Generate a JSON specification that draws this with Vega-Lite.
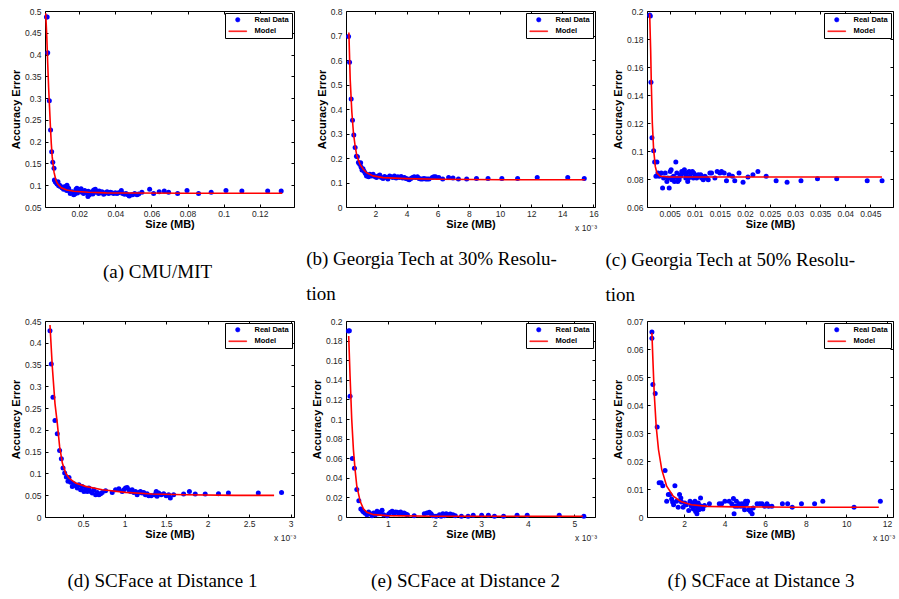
{
"$schema": "https://vega.github.io/schema/vega-lite/v6.json",
"background": "white",
"padding": {"left": 9, "top": 6, "right": 2, "bottom": 2},
"columns": 3,
"spacing": {"row": 114, "column": 52},
"bounds": "flush",
"resolve": {"scale": {"color": "independent", "shape": "independent"}, "legend": {"color": "independent", "shape": "independent"}},
"config": {
  "view": {"stroke": "black", "strokeWidth": 1},
  "font": "Liberation Sans",
  "axis": {"domain": false, "grid": false, "ticks": true, "tickSize": -3, "tickColor": "black", "tickWidth": 1, "labelFont": "Liberation Sans", "labelFontSize": 8.5, "labelColor": "#262626", "labelFlush": false, "labelOverlap": false, "titleFont": "Liberation Sans", "titleFontSize": 11, "titleFontWeight": "bold", "titleColor": "black"},
  "axisX": {"labelPadding": 5, "titlePadding": 1},
  "axisY": {"labelPadding": 7, "titlePadding": 3},
  "legend": {"orient": "top-right", "offset": 2, "padding": 3, "strokeColor": "black", "fillColor": "white", "labelFont": "Liberation Sans", "labelFontSize": 7.5, "labelFontWeight": "bold", "labelColor": "black", "symbolSize": 20, "symbolStrokeWidth": 0.5, "symbolOffset": 6, "labelOffset": 13, "rowPadding": 2.5},
  "title": {"font": "Liberation Serif", "fontSize": 19, "fontWeight": "normal", "color": "black", "orient": "bottom", "lineHeight": 35}
},
"datasets": {
"a": [
{"s":0.0018,"e":0.486,"k":"Real Data"},{"s":0.0022,"e":0.486,"k":"Real Data"},{"s":0.0025,"e":0.404,"k":"Real Data"},{"s":0.0034,"e":0.294,"k":"Real Data"},{"s":0.0041,"e":0.227,"k":"Real Data"},{"s":0.0047,"e":0.177,"k":"Real Data"},{"s":0.0053,"e":0.153,"k":"Real Data"},{"s":0.006,"e":0.139,"k":"Real Data"},{"s":0.0062,"e":0.112,"k":"Real Data"},{"s":0.0067,"e":0.108,"k":"Real Data"},{"s":0.0071,"e":0.106,"k":"Real Data"},{"s":0.0077,"e":0.103,"k":"Real Data"},{"s":0.0082,"e":0.108,"k":"Real Data"},{"s":0.0085,"e":0.101,"k":"Real Data"},{"s":0.0086,"e":0.099,"k":"Real Data"},{"s":0.0091,"e":0.1,"k":"Real Data"},{"s":0.0095,"e":0.097,"k":"Real Data"},{"s":0.0104,"e":0.094,"k":"Real Data"},{"s":0.011,"e":0.096,"k":"Real Data"},{"s":0.0113,"e":0.091,"k":"Real Data"},{"s":0.012,"e":0.092,"k":"Real Data"},{"s":0.0123,"e":0.097,"k":"Real Data"},{"s":0.013,"e":0.088,"k":"Real Data"},{"s":0.0132,"e":0.1,"k":"Real Data"},{"s":0.0141,"e":0.093,"k":"Real Data"},{"s":0.0145,"e":0.087,"k":"Real Data"},{"s":0.015,"e":0.081,"k":"Real Data"},{"s":0.016,"e":0.085,"k":"Real Data"},{"s":0.0165,"e":0.084,"k":"Real Data"},{"s":0.0169,"e":0.078,"k":"Real Data"},{"s":0.0174,"e":0.083,"k":"Real Data"},{"s":0.0175,"e":0.08,"k":"Real Data"},{"s":0.0182,"e":0.091,"k":"Real Data"},{"s":0.0187,"e":0.093,"k":"Real Data"},{"s":0.019,"e":0.082,"k":"Real Data"},{"s":0.0197,"e":0.087,"k":"Real Data"},{"s":0.0206,"e":0.089,"k":"Real Data"},{"s":0.021,"e":0.092,"k":"Real Data"},{"s":0.0215,"e":0.084,"k":"Real Data"},{"s":0.0224,"e":0.081,"k":"Real Data"},{"s":0.023,"e":0.088,"k":"Real Data"},{"s":0.0233,"e":0.085,"k":"Real Data"},{"s":0.0243,"e":0.083,"k":"Real Data"},{"s":0.0248,"e":0.074,"k":"Real Data"},{"s":0.025,"e":0.086,"k":"Real Data"},{"s":0.0256,"e":0.078,"k":"Real Data"},{"s":0.0261,"e":0.083,"k":"Real Data"},{"s":0.027,"e":0.085,"k":"Real Data"},{"s":0.0275,"e":0.08,"k":"Real Data"},{"s":0.028,"e":0.089,"k":"Real Data"},{"s":0.0289,"e":0.091,"k":"Real Data"},{"s":0.029,"e":0.084,"k":"Real Data"},{"s":0.0298,"e":0.085,"k":"Real Data"},{"s":0.0307,"e":0.081,"k":"Real Data"},{"s":0.031,"e":0.087,"k":"Real Data"},{"s":0.0317,"e":0.083,"k":"Real Data"},{"s":0.0326,"e":0.085,"k":"Real Data"},{"s":0.0335,"e":0.079,"k":"Real Data"},{"s":0.034,"e":0.081,"k":"Real Data"},{"s":0.0344,"e":0.083,"k":"Real Data"},{"s":0.0354,"e":0.085,"k":"Real Data"},{"s":0.0363,"e":0.081,"k":"Real Data"},{"s":0.0372,"e":0.084,"k":"Real Data"},{"s":0.0381,"e":0.083,"k":"Real Data"},{"s":0.039,"e":0.081,"k":"Real Data"},{"s":0.04,"e":0.083,"k":"Real Data"},{"s":0.0409,"e":0.081,"k":"Real Data"},{"s":0.0418,"e":0.083,"k":"Real Data"},{"s":0.0433,"e":0.088,"k":"Real Data"},{"s":0.044,"e":0.081,"k":"Real Data"},{"s":0.0451,"e":0.079,"k":"Real Data"},{"s":0.0459,"e":0.081,"k":"Real Data"},{"s":0.047,"e":0.078,"k":"Real Data"},{"s":0.0477,"e":0.075,"k":"Real Data"},{"s":0.0488,"e":0.078,"k":"Real Data"},{"s":0.0496,"e":0.078,"k":"Real Data"},{"s":0.0507,"e":0.081,"k":"Real Data"},{"s":0.052,"e":0.078,"k":"Real Data"},{"s":0.0529,"e":0.08,"k":"Real Data"},{"s":0.0547,"e":0.084,"k":"Real Data"},{"s":0.059,"e":0.091,"k":"Real Data"},{"s":0.0612,"e":0.081,"k":"Real Data"},{"s":0.0643,"e":0.085,"k":"Real Data"},{"s":0.0671,"e":0.087,"k":"Real Data"},{"s":0.0695,"e":0.084,"k":"Real Data"},{"s":0.0745,"e":0.081,"k":"Real Data"},{"s":0.0797,"e":0.088,"k":"Real Data"},{"s":0.0861,"e":0.081,"k":"Real Data"},{"s":0.0931,"e":0.084,"k":"Real Data"},{"s":0.1013,"e":0.088,"k":"Real Data"},{"s":0.1101,"e":0.087,"k":"Real Data"},{"s":0.1244,"e":0.087,"k":"Real Data"},{"s":0.1319,"e":0.087,"k":"Real Data"},
{"s":0.0014,"e":0.495,"k":"Model"},{"s":0.002,"e":0.44,"k":"Model"},{"s":0.0025,"e":0.38,"k":"Model"},{"s":0.003,"e":0.325,"k":"Model"},{"s":0.0035,"e":0.28,"k":"Model"},{"s":0.004,"e":0.235,"k":"Model"},{"s":0.0045,"e":0.195,"k":"Model"},{"s":0.005,"e":0.165,"k":"Model"},{"s":0.006,"e":0.13,"k":"Model"},{"s":0.007,"e":0.112,"k":"Model"},{"s":0.008,"e":0.103,"k":"Model"},{"s":0.01,"e":0.094,"k":"Model"},{"s":0.013,"e":0.089,"k":"Model"},{"s":0.017,"e":0.086,"k":"Model"},{"s":0.025,"e":0.084,"k":"Model"},{"s":0.035,"e":0.0825,"k":"Model"},{"s":0.05,"e":0.082,"k":"Model"},{"s":0.08,"e":0.0815,"k":"Model"},{"s":0.1325,"e":0.0815,"k":"Model"}
],
"b": [
{"s":0.274e-3,"e":0.696,"k":"Real Data"},{"s":0.337e-3,"e":0.591,"k":"Real Data"},{"s":0.443e-3,"e":0.441,"k":"Real Data"},{"s":0.527e-3,"e":0.354,"k":"Real Data"},{"s":0.611e-3,"e":0.294,"k":"Real Data"},{"s":0.696e-3,"e":0.243,"k":"Real Data"},{"s":0.78e-3,"e":0.207,"k":"Real Data"},{"s":0.843e-3,"e":0.205,"k":"Real Data"},{"s":0.906e-3,"e":0.182,"k":"Real Data"},{"s":0.99e-3,"e":0.174,"k":"Real Data"},{"s":1.05e-3,"e":0.181,"k":"Real Data"},{"s":1.075e-3,"e":0.163,"k":"Real Data"},{"s":1.138e-3,"e":0.151,"k":"Real Data"},{"s":1.2e-3,"e":0.156,"k":"Real Data"},{"s":1.26e-3,"e":0.147,"k":"Real Data"},{"s":1.33e-3,"e":0.14,"k":"Real Data"},{"s":1.39e-3,"e":0.134,"k":"Real Data"},{"s":1.43e-3,"e":0.127,"k":"Real Data"},{"s":1.5e-3,"e":0.13,"k":"Real Data"},{"s":1.56e-3,"e":0.123,"k":"Real Data"},{"s":1.64e-3,"e":0.134,"k":"Real Data"},{"s":1.75e-3,"e":0.127,"k":"Real Data"},{"s":1.85e-3,"e":0.134,"k":"Real Data"},{"s":1.96e-3,"e":0.124,"k":"Real Data"},{"s":2.07e-3,"e":0.12,"k":"Real Data"},{"s":2.17e-3,"e":0.127,"k":"Real Data"},{"s":2.28e-3,"e":0.131,"k":"Real Data"},{"s":2.38e-3,"e":0.12,"k":"Real Data"},{"s":2.49e-3,"e":0.116,"k":"Real Data"},{"s":2.59e-3,"e":0.124,"k":"Real Data"},{"s":2.7e-3,"e":0.12,"k":"Real Data"},{"s":2.8e-3,"e":0.114,"k":"Real Data"},{"s":2.91e-3,"e":0.127,"k":"Real Data"},{"s":3.01e-3,"e":0.123,"k":"Real Data"},{"s":3.12e-3,"e":0.12,"k":"Real Data"},{"s":3.22e-3,"e":0.127,"k":"Real Data"},{"s":3.33e-3,"e":0.118,"k":"Real Data"},{"s":3.44e-3,"e":0.123,"k":"Real Data"},{"s":3.54e-3,"e":0.12,"k":"Real Data"},{"s":3.65e-3,"e":0.124,"k":"Real Data"},{"s":3.75e-3,"e":0.118,"k":"Real Data"},{"s":3.86e-3,"e":0.12,"k":"Real Data"},{"s":3.96e-3,"e":0.116,"k":"Real Data"},{"s":4.07e-3,"e":0.114,"k":"Real Data"},{"s":4.17e-3,"e":0.111,"k":"Real Data"},{"s":4.28e-3,"e":0.116,"k":"Real Data"},{"s":4.38e-3,"e":0.12,"k":"Real Data"},{"s":4.49e-3,"e":0.123,"k":"Real Data"},{"s":4.59e-3,"e":0.12,"k":"Real Data"},{"s":4.7e-3,"e":0.123,"k":"Real Data"},{"s":4.8e-3,"e":0.116,"k":"Real Data"},{"s":4.91e-3,"e":0.114,"k":"Real Data"},{"s":5.02e-3,"e":0.114,"k":"Real Data"},{"s":5.12e-3,"e":0.116,"k":"Real Data"},{"s":5.23e-3,"e":0.114,"k":"Real Data"},{"s":5.33e-3,"e":0.114,"k":"Real Data"},{"s":5.44e-3,"e":0.114,"k":"Real Data"},{"s":5.65e-3,"e":0.12,"k":"Real Data"},{"s":5.75e-3,"e":0.123,"k":"Real Data"},{"s":5.86e-3,"e":0.123,"k":"Real Data"},{"s":6.07e-3,"e":0.12,"k":"Real Data"},{"s":6.32e-3,"e":0.114,"k":"Real Data"},{"s":6.7e-3,"e":0.12,"k":"Real Data"},{"s":6.98e-3,"e":0.118,"k":"Real Data"},{"s":7.33e-3,"e":0.114,"k":"Real Data"},{"s":7.86e-3,"e":0.114,"k":"Real Data"},{"s":8.49e-3,"e":0.116,"k":"Real Data"},{"s":9.23e-3,"e":0.116,"k":"Real Data"},{"s":10.12e-3,"e":0.116,"k":"Real Data"},{"s":11.13e-3,"e":0.116,"k":"Real Data"},{"s":12.39e-3,"e":0.12,"k":"Real Data"},{"s":14.35e-3,"e":0.12,"k":"Real Data"},{"s":15.41e-3,"e":0.116,"k":"Real Data"},
{"s":0.295e-3,"e":0.712,"k":"Model"},{"s":0.38e-3,"e":0.52,"k":"Model"},{"s":0.485e-3,"e":0.388,"k":"Model"},{"s":0.59e-3,"e":0.301,"k":"Model"},{"s":0.7e-3,"e":0.247,"k":"Model"},{"s":0.8e-3,"e":0.211,"k":"Model"},{"s":1.01e-3,"e":0.174,"k":"Model"},{"s":1.22e-3,"e":0.154,"k":"Model"},{"s":1.43e-3,"e":0.14,"k":"Model"},{"s":1.85e-3,"e":0.127,"k":"Model"},{"s":2.49e-3,"e":0.12,"k":"Model"},{"s":3.96e-3,"e":0.116,"k":"Model"},{"s":6.07e-3,"e":0.113,"k":"Model"},{"s":10.28e-3,"e":0.111,"k":"Model"},{"s":15.45e-3,"e":0.111,"k":"Model"}
],
"c": [
{"s":0.00103,"e":0.1971,"k":"Real Data"},{"s":0.00116,"e":0.1964,"k":"Real Data"},{"s":0.00129,"e":0.1491,"k":"Real Data"},{"s":0.00149,"e":0.1094,"k":"Real Data"},{"s":0.00182,"e":0.1002,"k":"Real Data"},{"s":0.00202,"e":0.0921,"k":"Real Data"},{"s":0.00248,"e":0.0921,"k":"Real Data"},{"s":0.00228,"e":0.0819,"k":"Real Data"},{"s":0.00268,"e":0.0842,"k":"Real Data"},{"s":0.00294,"e":0.0819,"k":"Real Data"},{"s":0.00334,"e":0.0842,"k":"Real Data"},{"s":0.0036,"e":0.0735,"k":"Real Data"},{"s":0.0038,"e":0.0807,"k":"Real Data"},{"s":0.00413,"e":0.0842,"k":"Real Data"},{"s":0.00446,"e":0.0783,"k":"Real Data"},{"s":0.00465,"e":0.0807,"k":"Real Data"},{"s":0.00492,"e":0.0735,"k":"Real Data"},{"s":0.0052,"e":0.0807,"k":"Real Data"},{"s":0.00512,"e":0.0854,"k":"Real Data"},{"s":0.00531,"e":0.0866,"k":"Real Data"},{"s":0.00545,"e":0.0795,"k":"Real Data"},{"s":0.0058,"e":0.0807,"k":"Real Data"},{"s":0.00578,"e":0.0819,"k":"Real Data"},{"s":0.00597,"e":0.0783,"k":"Real Data"},{"s":0.00624,"e":0.0921,"k":"Real Data"},{"s":0.00644,"e":0.0842,"k":"Real Data"},{"s":0.00663,"e":0.0783,"k":"Real Data"},{"s":0.0067,"e":0.0807,"k":"Real Data"},{"s":0.0069,"e":0.0795,"k":"Real Data"},{"s":0.0072,"e":0.0819,"k":"Real Data"},{"s":0.00716,"e":0.0831,"k":"Real Data"},{"s":0.00742,"e":0.0854,"k":"Real Data"},{"s":0.00775,"e":0.0842,"k":"Real Data"},{"s":0.00795,"e":0.0866,"k":"Real Data"},{"s":0.0082,"e":0.0831,"k":"Real Data"},{"s":0.00822,"e":0.0807,"k":"Real Data"},{"s":0.00841,"e":0.0842,"k":"Real Data"},{"s":0.00861,"e":0.0783,"k":"Real Data"},{"s":0.0088,"e":0.0807,"k":"Real Data"},{"s":0.00888,"e":0.0854,"k":"Real Data"},{"s":0.00907,"e":0.0819,"k":"Real Data"},{"s":0.00927,"e":0.0842,"k":"Real Data"},{"s":0.00954,"e":0.0854,"k":"Real Data"},{"s":0.00973,"e":0.0807,"k":"Real Data"},{"s":0.0098,"e":0.0842,"k":"Real Data"},{"s":0.01006,"e":0.0831,"k":"Real Data"},{"s":0.01039,"e":0.0807,"k":"Real Data"},{"s":0.01072,"e":0.0831,"k":"Real Data"},{"s":0.01105,"e":0.0819,"k":"Real Data"},{"s":0.0112,"e":0.0831,"k":"Real Data"},{"s":0.01138,"e":0.0807,"k":"Real Data"},{"s":0.01171,"e":0.0795,"k":"Real Data"},{"s":0.01204,"e":0.0819,"k":"Real Data"},{"s":0.01237,"e":0.0807,"k":"Real Data"},{"s":0.0127,"e":0.0795,"k":"Real Data"},{"s":0.01303,"e":0.0842,"k":"Real Data"},{"s":0.01336,"e":0.0842,"k":"Real Data"},{"s":0.01402,"e":0.0807,"k":"Real Data"},{"s":0.01448,"e":0.0854,"k":"Real Data"},{"s":0.01501,"e":0.0842,"k":"Real Data"},{"s":0.01534,"e":0.0854,"k":"Real Data"},{"s":0.01587,"e":0.0842,"k":"Real Data"},{"s":0.01633,"e":0.0788,"k":"Real Data"},{"s":0.01686,"e":0.0831,"k":"Real Data"},{"s":0.01752,"e":0.0819,"k":"Real Data"},{"s":0.01798,"e":0.0788,"k":"Real Data"},{"s":0.01883,"e":0.0842,"k":"Real Data"},{"s":0.01963,"e":0.0776,"k":"Real Data"},{"s":0.02061,"e":0.0814,"k":"Real Data"},{"s":0.0216,"e":0.0831,"k":"Real Data"},{"s":0.02259,"e":0.0854,"k":"Real Data"},{"s":0.02424,"e":0.0819,"k":"Real Data"},{"s":0.02622,"e":0.0788,"k":"Real Data"},{"s":0.0284,"e":0.0776,"k":"Real Data"},{"s":0.03117,"e":0.0788,"k":"Real Data"},{"s":0.03446,"e":0.0802,"k":"Real Data"},{"s":0.03829,"e":0.0802,"k":"Real Data"},{"s":0.04436,"e":0.0788,"k":"Real Data"},{"s":0.04732,"e":0.0788,"k":"Real Data"},
{"s":0.00103,"e":0.198,"k":"Model"},{"s":0.00123,"e":0.172,"k":"Model"},{"s":0.00136,"e":0.148,"k":"Model"},{"s":0.00156,"e":0.12,"k":"Model"},{"s":0.00182,"e":0.101,"k":"Model"},{"s":0.00215,"e":0.089,"k":"Model"},{"s":0.00248,"e":0.0842,"k":"Model"},{"s":0.00314,"e":0.0819,"k":"Model"},{"s":0.0048,"e":0.0814,"k":"Model"},{"s":0.018,"e":0.0814,"k":"Model"},{"s":0.0473,"e":0.0814,"k":"Model"}
],
"d": [
{"s":0.1e-3,"e":0.4278,"k":"Real Data"},{"s":0.116e-3,"e":0.3514,"k":"Real Data"},{"s":0.136e-3,"e":0.275,"k":"Real Data"},{"s":0.16e-3,"e":0.2216,"k":"Real Data"},{"s":0.188e-3,"e":0.191,"k":"Real Data"},{"s":0.216e-3,"e":0.1528,"k":"Real Data"},{"s":0.237e-3,"e":0.1337,"k":"Real Data"},{"s":0.257e-3,"e":0.1123,"k":"Real Data"},{"s":0.277e-3,"e":0.1009,"k":"Real Data"},{"s":0.297e-3,"e":0.0917,"k":"Real Data"},{"s":0.317e-3,"e":0.0818,"k":"Real Data"},{"s":0.329e-3,"e":0.0909,"k":"Real Data"},{"s":0.349e-3,"e":0.0795,"k":"Real Data"},{"s":0.369e-3,"e":0.0703,"k":"Real Data"},{"s":0.389e-3,"e":0.0764,"k":"Real Data"},{"s":0.409e-3,"e":0.0718,"k":"Real Data"},{"s":0.429e-3,"e":0.0665,"k":"Real Data"},{"s":0.449e-3,"e":0.0741,"k":"Real Data"},{"s":0.469e-3,"e":0.0627,"k":"Real Data"},{"s":0.489e-3,"e":0.0703,"k":"Real Data"},{"s":0.509e-3,"e":0.0588,"k":"Real Data"},{"s":0.529e-3,"e":0.0642,"k":"Real Data"},{"s":0.549e-3,"e":0.0588,"k":"Real Data"},{"s":0.569e-3,"e":0.0665,"k":"Real Data"},{"s":0.589e-3,"e":0.0588,"k":"Real Data"},{"s":0.61e-3,"e":0.055,"k":"Real Data"},{"s":0.63e-3,"e":0.0627,"k":"Real Data"},{"s":0.65e-3,"e":0.0512,"k":"Real Data"},{"s":0.67e-3,"e":0.0565,"k":"Real Data"},{"s":0.69e-3,"e":0.0512,"k":"Real Data"},{"s":0.71e-3,"e":0.0535,"k":"Real Data"},{"s":0.73e-3,"e":0.0565,"k":"Real Data"},{"s":0.77e-3,"e":0.0604,"k":"Real Data"},{"s":0.85e-3,"e":0.0565,"k":"Real Data"},{"s":0.89e-3,"e":0.0627,"k":"Real Data"},{"s":0.93e-3,"e":0.065,"k":"Real Data"},{"s":0.97e-3,"e":0.0588,"k":"Real Data"},{"s":0.99e-3,"e":0.0627,"k":"Real Data"},{"s":1.01e-3,"e":0.0665,"k":"Real Data"},{"s":1.03e-3,"e":0.068,"k":"Real Data"},{"s":1.05e-3,"e":0.0627,"k":"Real Data"},{"s":1.07e-3,"e":0.0588,"k":"Real Data"},{"s":1.09e-3,"e":0.0627,"k":"Real Data"},{"s":1.11e-3,"e":0.0565,"k":"Real Data"},{"s":1.13e-3,"e":0.0588,"k":"Real Data"},{"s":1.15e-3,"e":0.0512,"k":"Real Data"},{"s":1.17e-3,"e":0.0565,"k":"Real Data"},{"s":1.19e-3,"e":0.0588,"k":"Real Data"},{"s":1.21e-3,"e":0.055,"k":"Real Data"},{"s":1.23e-3,"e":0.0565,"k":"Real Data"},{"s":1.25e-3,"e":0.0512,"k":"Real Data"},{"s":1.27e-3,"e":0.0535,"k":"Real Data"},{"s":1.29e-3,"e":0.0489,"k":"Real Data"},{"s":1.32e-3,"e":0.0489,"k":"Real Data"},{"s":1.36e-3,"e":0.0512,"k":"Real Data"},{"s":1.38e-3,"e":0.0588,"k":"Real Data"},{"s":1.39e-3,"e":0.0474,"k":"Real Data"},{"s":1.41e-3,"e":0.055,"k":"Real Data"},{"s":1.44e-3,"e":0.0512,"k":"Real Data"},{"s":1.47e-3,"e":0.0535,"k":"Real Data"},{"s":1.5e-3,"e":0.0489,"k":"Real Data"},{"s":1.53e-3,"e":0.0512,"k":"Real Data"},{"s":1.55e-3,"e":0.0436,"k":"Real Data"},{"s":1.59e-3,"e":0.0512,"k":"Real Data"},{"s":1.71e-3,"e":0.0527,"k":"Real Data"},{"s":1.78e-3,"e":0.0588,"k":"Real Data"},{"s":1.85e-3,"e":0.0527,"k":"Real Data"},{"s":1.97e-3,"e":0.0527,"k":"Real Data"},{"s":2.13e-3,"e":0.0535,"k":"Real Data"},{"s":2.25e-3,"e":0.055,"k":"Real Data"},{"s":2.61e-3,"e":0.055,"k":"Real Data"},{"s":2.89e-3,"e":0.0565,"k":"Real Data"},
{"s":0.1e-3,"e":0.4408,"k":"Model"},{"s":0.128e-3,"e":0.345,"k":"Model"},{"s":0.16e-3,"e":0.261,"k":"Model"},{"s":0.188e-3,"e":0.2155,"k":"Model"},{"s":0.216e-3,"e":0.162,"k":"Model"},{"s":0.249e-3,"e":0.1238,"k":"Model"},{"s":0.289e-3,"e":0.1009,"k":"Model"},{"s":0.329e-3,"e":0.0894,"k":"Model"},{"s":0.409e-3,"e":0.0779,"k":"Model"},{"s":0.529e-3,"e":0.0703,"k":"Model"},{"s":0.73e-3,"e":0.0627,"k":"Model"},{"s":1.01e-3,"e":0.0565,"k":"Model"},{"s":1.33e-3,"e":0.0527,"k":"Model"},{"s":1.73e-3,"e":0.0512,"k":"Model"},{"s":2.33e-3,"e":0.0497,"k":"Model"},{"s":2.8e-3,"e":0.0497,"k":"Model"}
],
"e": [
{"s":0.151e-3,"e":0.1898,"k":"Real Data"},{"s":0.172e-3,"e":0.1901,"k":"Real Data"},{"s":0.187e-3,"e":0.1233,"k":"Real Data"},{"s":0.237e-3,"e":0.0596,"k":"Real Data"},{"s":0.281e-3,"e":0.0497,"k":"Real Data"},{"s":0.332e-3,"e":0.028,"k":"Real Data"},{"s":0.375e-3,"e":0.0167,"k":"Real Data"},{"s":0.418e-3,"e":0.0082,"k":"Real Data"},{"s":0.455e-3,"e":0.0065,"k":"Real Data"},{"s":0.476e-3,"e":0.0051,"k":"Real Data"},{"s":0.512e-3,"e":0.0037,"k":"Real Data"},{"s":0.549e-3,"e":0.0024,"k":"Real Data"},{"s":0.585e-3,"e":0.0051,"k":"Real Data"},{"s":0.621e-3,"e":0.0034,"k":"Real Data"},{"s":0.657e-3,"e":0.0014,"k":"Real Data"},{"s":0.693e-3,"e":0.0041,"k":"Real Data"},{"s":0.73e-3,"e":0.0024,"k":"Real Data"},{"s":0.766e-3,"e":0.0058,"k":"Real Data"},{"s":0.802e-3,"e":0.0034,"k":"Real Data"},{"s":0.838e-3,"e":0.0048,"k":"Real Data"},{"s":0.874e-3,"e":0.0068,"k":"Real Data"},{"s":0.91e-3,"e":0.0024,"k":"Real Data"},{"s":0.983e-3,"e":0.0014,"k":"Real Data"},{"s":1.019e-3,"e":0.0034,"k":"Real Data"},{"s":1.055e-3,"e":0.0048,"k":"Real Data"},{"s":1.091e-3,"e":0.0058,"k":"Real Data"},{"s":1.127e-3,"e":0.0034,"k":"Real Data"},{"s":1.164e-3,"e":0.0051,"k":"Real Data"},{"s":1.2e-3,"e":0.0048,"k":"Real Data"},{"s":1.236e-3,"e":0.0034,"k":"Real Data"},{"s":1.272e-3,"e":0.0051,"k":"Real Data"},{"s":1.308e-3,"e":0.0034,"k":"Real Data"},{"s":1.345e-3,"e":0.0041,"k":"Real Data"},{"s":1.381e-3,"e":0.0031,"k":"Real Data"},{"s":1.417e-3,"e":0.0024,"k":"Real Data"},{"s":1.562e-3,"e":0.0014,"k":"Real Data"},{"s":1.779e-3,"e":0.0034,"k":"Real Data"},{"s":1.837e-3,"e":0.0041,"k":"Real Data"},{"s":1.887e-3,"e":0.0048,"k":"Real Data"},{"s":1.924e-3,"e":0.0034,"k":"Real Data"},{"s":1.96e-3,"e":0.0014,"k":"Real Data"},{"s":2.032e-3,"e":0.0007,"k":"Real Data"},{"s":2.104e-3,"e":0.0024,"k":"Real Data"},{"s":2.14e-3,"e":0.0007,"k":"Real Data"},{"s":2.177e-3,"e":0.0034,"k":"Real Data"},{"s":2.213e-3,"e":0.0014,"k":"Real Data"},{"s":2.249e-3,"e":0.0034,"k":"Real Data"},{"s":2.285e-3,"e":0.0024,"k":"Real Data"},{"s":2.336e-3,"e":0.0031,"k":"Real Data"},{"s":2.394e-3,"e":0.0024,"k":"Real Data"},{"s":2.444e-3,"e":0.0014,"k":"Real Data"},{"s":2.575e-3,"e":0.0007,"k":"Real Data"},{"s":2.719e-3,"e":0.0007,"k":"Real Data"},{"s":2.828e-3,"e":0.0017,"k":"Real Data"},{"s":3.009e-3,"e":0.0017,"k":"Real Data"},{"s":3.154e-3,"e":0.0017,"k":"Real Data"},{"s":3.284e-3,"e":0.0007,"k":"Real Data"},{"s":3.479e-3,"e":0.0007,"k":"Real Data"},{"s":3.769e-3,"e":0.0017,"k":"Real Data"},{"s":3.986e-3,"e":0.0017,"k":"Real Data"},{"s":4.673e-3,"e":0.0017,"k":"Real Data"},{"s":5.201e-3,"e":0.0007,"k":"Real Data"},
{"s":0.158e-3,"e":0.1847,"k":"Model"},{"s":0.187e-3,"e":0.1438,"k":"Model"},{"s":0.223e-3,"e":0.0995,"k":"Model"},{"s":0.259e-3,"e":0.0688,"k":"Model"},{"s":0.295e-3,"e":0.0484,"k":"Model"},{"s":0.332e-3,"e":0.0314,"k":"Model"},{"s":0.404e-3,"e":0.016,"k":"Model"},{"s":0.476e-3,"e":0.0082,"k":"Model"},{"s":0.549e-3,"e":0.0048,"k":"Model"},{"s":0.693e-3,"e":0.0024,"k":"Model"},{"s":0.983e-3,"e":0.0014,"k":"Model"},{"s":1.996e-3,"e":0.0007,"k":"Model"},{"s":5.18e-3,"e":0.0007,"k":"Model"}
],
"f": [
{"s":0.412e-3,"e":0.0661,"k":"Real Data"},{"s":0.412e-3,"e":0.0638,"k":"Real Data"},{"s":0.46e-3,"e":0.0473,"k":"Real Data"},{"s":0.574e-3,"e":0.0441,"k":"Real Data"},{"s":0.671e-3,"e":0.0321,"k":"Real Data"},{"s":0.768e-3,"e":0.0122,"k":"Real Data"},{"s":0.865e-3,"e":0.0122,"k":"Real Data"},{"s":0.947e-3,"e":0.0112,"k":"Real Data"},{"s":1.06e-3,"e":0.0166,"k":"Real Data"},{"s":1.141e-3,"e":0.0056,"k":"Real Data"},{"s":1.222e-3,"e":0.008,"k":"Real Data"},{"s":1.303e-3,"e":0.008,"k":"Real Data"},{"s":1.384e-3,"e":0.0064,"k":"Real Data"},{"s":1.433e-3,"e":0.0054,"k":"Real Data"},{"s":1.481e-3,"e":0.0044,"k":"Real Data"},{"s":1.546e-3,"e":0.0112,"k":"Real Data"},{"s":1.627e-3,"e":0.0056,"k":"Real Data"},{"s":1.708e-3,"e":0.0035,"k":"Real Data"},{"s":1.773e-3,"e":0.008,"k":"Real Data"},{"s":1.838e-3,"e":0.0068,"k":"Real Data"},{"s":1.87e-3,"e":0.0054,"k":"Real Data"},{"s":1.951e-3,"e":0.0035,"k":"Real Data"},{"s":2.032e-3,"e":0.005,"k":"Real Data"},{"s":2.113e-3,"e":0.0044,"k":"Real Data"},{"s":2.227e-3,"e":0.0023,"k":"Real Data"},{"s":2.292e-3,"e":0.0056,"k":"Real Data"},{"s":2.357e-3,"e":0.0038,"k":"Real Data"},{"s":2.405e-3,"e":0.005,"k":"Real Data"},{"s":2.454e-3,"e":0.0029,"k":"Real Data"},{"s":2.502e-3,"e":0.0044,"k":"Real Data"},{"s":2.535e-3,"e":0.0056,"k":"Real Data"},{"s":2.567e-3,"e":0.002,"k":"Real Data"},{"s":2.6e-3,"e":0.0038,"k":"Real Data"},{"s":2.632e-3,"e":0.0012,"k":"Real Data"},{"s":2.665e-3,"e":0.0032,"k":"Real Data"},{"s":2.697e-3,"e":0.005,"k":"Real Data"},{"s":2.729e-3,"e":0.0026,"k":"Real Data"},{"s":2.762e-3,"e":0.0041,"k":"Real Data"},{"s":2.81e-3,"e":0.0068,"k":"Real Data"},{"s":2.843e-3,"e":0.0038,"k":"Real Data"},{"s":2.924e-3,"e":0.0029,"k":"Real Data"},{"s":3.005e-3,"e":0.0041,"k":"Real Data"},{"s":3.248e-3,"e":0.0047,"k":"Real Data"},{"s":3.734e-3,"e":0.0047,"k":"Real Data"},{"s":3.848e-3,"e":0.0047,"k":"Real Data"},{"s":4.01e-3,"e":0.0056,"k":"Real Data"},{"s":4.22e-3,"e":0.0056,"k":"Real Data"},{"s":4.35e-3,"e":0.0047,"k":"Real Data"},{"s":4.431e-3,"e":0.0066,"k":"Real Data"},{"s":4.464e-3,"e":0.0012,"k":"Real Data"},{"s":4.512e-3,"e":0.0038,"k":"Real Data"},{"s":4.577e-3,"e":0.0056,"k":"Real Data"},{"s":4.642e-3,"e":0.0038,"k":"Real Data"},{"s":4.707e-3,"e":0.0047,"k":"Real Data"},{"s":4.788e-3,"e":0.0038,"k":"Real Data"},{"s":4.853e-3,"e":0.0047,"k":"Real Data"},{"s":4.917e-3,"e":0.0038,"k":"Real Data"},{"s":4.982e-3,"e":0.0026,"k":"Real Data"},{"s":5.031e-3,"e":0.0056,"k":"Real Data"},{"s":5.079e-3,"e":0.0047,"k":"Real Data"},{"s":5.128e-3,"e":0.0056,"k":"Real Data"},{"s":5.193e-3,"e":0.0026,"k":"Real Data"},{"s":5.274e-3,"e":0.002,"k":"Real Data"},{"s":5.355e-3,"e":0.0012,"k":"Real Data"},{"s":5.404e-3,"e":0.0032,"k":"Real Data"},{"s":5.598e-3,"e":0.0047,"k":"Real Data"},{"s":5.728e-3,"e":0.0047,"k":"Real Data"},{"s":5.841e-3,"e":0.0047,"k":"Real Data"},{"s":5.971e-3,"e":0.0038,"k":"Real Data"},{"s":6.084e-3,"e":0.0047,"k":"Real Data"},{"s":6.165e-3,"e":0.0038,"k":"Real Data"},{"s":6.327e-3,"e":0.0038,"k":"Real Data"},{"s":6.846e-3,"e":0.0047,"k":"Real Data"},{"s":7.105e-3,"e":0.0047,"k":"Real Data"},{"s":7.332e-3,"e":0.0035,"k":"Real Data"},{"s":7.786e-3,"e":0.0047,"k":"Real Data"},{"s":8.434e-3,"e":0.0047,"k":"Real Data"},{"s":8.839e-3,"e":0.0056,"k":"Real Data"},{"s":10.379e-3,"e":0.0035,"k":"Real Data"},{"s":11.676e-3,"e":0.0056,"k":"Real Data"},
{"s":0.412e-3,"e":0.0658,"k":"Model"},{"s":0.46e-3,"e":0.0563,"k":"Model"},{"s":0.525e-3,"e":0.0444,"k":"Model"},{"s":0.622e-3,"e":0.0324,"k":"Model"},{"s":0.736e-3,"e":0.0241,"k":"Model"},{"s":0.898e-3,"e":0.0169,"k":"Model"},{"s":1.141e-3,"e":0.011,"k":"Model"},{"s":1.465e-3,"e":0.0074,"k":"Model"},{"s":1.87e-3,"e":0.0054,"k":"Model"},{"s":2.357e-3,"e":0.0044,"k":"Model"},{"s":3.167e-3,"e":0.0038,"k":"Model"},{"s":4.464e-3,"e":0.0036,"k":"Model"},{"s":7.705e-3,"e":0.0035,"k":"Model"},{"s":11.6e-3,"e":0.0035,"k":"Model"}
]
},
"concat": [
{
 "width": 249, "height": 196,
 "title": {"text": "(a) CMU/MIT", "orient": "bottom", "anchor": "middle", "offset": 33, "dx": -12},
 "resolve": {"axis": {"x": "independent", "y": "independent"}},
 "layer": [
  {"data": {"name": "a"}, "transform": [{"filter": "datum.k == 'Real Data'"}], "mark": {"type": "point", "filled": true, "size": 25, "opacity": 1},
   "encoding": {
    "x": {"field": "s", "type": "quantitative", "scale": {"domain": [0.001, 0.139], "nice": false, "zero": false}, "axis": {"title": "Size (MB)", "values": [0.02, 0.04, 0.06, 0.08, 0.1, 0.12], "labelExpr": "format(datum.value, '~g')"}},
    "y": {"field": "e", "type": "quantitative", "scale": {"domain": [0.05, 0.5], "nice": false, "zero": false}, "axis": {"title": "Accuracy Error", "values": [0.05, 0.1, 0.15, 0.2, 0.25, 0.3, 0.35, 0.4, 0.45, 0.5], "labelExpr": "format(datum.value, '~g')"}},
    "color": {"field": "k", "type": "nominal", "scale": {"domain": ["Real Data", "Model"], "range": ["#0000ff", "#ff0000"]}, "legend": {"title": null, "strokeColor": "black", "fillColor": "white"}},
    "shape": {"field": "k", "type": "nominal", "scale": {"domain": ["Real Data", "Model"], "range": ["circle", "M-4,-0.2H4V0.2H-4Z"]}, "legend": {"title": null, "strokeColor": "black", "fillColor": "white"}}
   }},
  {"data": {"name": "a"}, "transform": [{"filter": "datum.k == 'Model'"}], "mark": {"type": "line", "strokeWidth": 1.6},
   "encoding": {"x": {"field": "s", "type": "quantitative", "axis": null}, "y": {"field": "e", "type": "quantitative", "axis": null}, "color": {"field": "k", "type": "nominal", "scale": {"domain": ["Real Data", "Model"], "range": ["#0000ff", "#ff0000"]}, "legend": {"title": null, "strokeColor": "black", "fillColor": "white"}}}},
  {"data": {"name": "a"}, "mark": {"type": "point", "opacity": 0},
   "encoding": {"x": {"field": "s", "type": "quantitative", "axis": {"orient": "top", "labels": false, "title": null, "values": [0.02, 0.04, 0.06, 0.08, 0.1, 0.12]}}, "y": {"field": "e", "type": "quantitative", "axis": {"orient": "right", "labels": false, "title": null, "values": [0.05, 0.1, 0.15, 0.2, 0.25, 0.3, 0.35, 0.4, 0.45, 0.5]}}}}
 ]
},
{
 "width": 249, "height": 196,
 "title": {"text": ["(b) Georgia Tech at 30% Resolu-", "tion"], "orient": "bottom", "anchor": "start", "align": "left", "dx": -10, "offset": 17},
 "resolve": {"axis": {"x": "independent", "y": "independent"}},
 "layer": [
  {"data": {"name": "b"}, "transform": [{"filter": "datum.k == 'Real Data'"}], "mark": {"type": "point", "filled": true, "size": 25, "opacity": 1},
   "encoding": {
    "x": {"field": "s", "type": "quantitative", "scale": {"domain": [0.00011, 0.0161], "nice": false, "zero": false}, "axis": {"title": "Size (MB)", "values": [0.002, 0.004, 0.006, 0.008, 0.01, 0.012, 0.014, 0.016], "labelExpr": "format(datum.value * 1000, '~g')"}},
    "y": {"field": "e", "type": "quantitative", "scale": {"domain": [0, 0.8], "nice": false, "zero": false}, "axis": {"title": "Accuracy Error", "values": [0, 0.1, 0.2, 0.3, 0.4, 0.5, 0.6, 0.7, 0.8], "labelExpr": "format(datum.value, '~g')"}},
    "color": {"field": "k", "type": "nominal", "scale": {"domain": ["Real Data", "Model"], "range": ["#0000ff", "#ff0000"]}, "legend": {"title": null, "strokeColor": "black", "fillColor": "white"}},
    "shape": {"field": "k", "type": "nominal", "scale": {"domain": ["Real Data", "Model"], "range": ["circle", "M-4,-0.2H4V0.2H-4Z"]}, "legend": {"title": null, "strokeColor": "black", "fillColor": "white"}}
   }},
  {"data": {"name": "b"}, "transform": [{"filter": "datum.k == 'Model'"}], "mark": {"type": "line", "strokeWidth": 1.6},
   "encoding": {"x": {"field": "s", "type": "quantitative", "axis": null}, "y": {"field": "e", "type": "quantitative", "axis": null}, "color": {"field": "k", "type": "nominal", "scale": {"domain": ["Real Data", "Model"], "range": ["#0000ff", "#ff0000"]}, "legend": {"title": null, "strokeColor": "black", "fillColor": "white"}}}},
  {"data": {"values": [{"t": "x 10⁻³"}]}, "mark": {"type": "text", "align": "right", "baseline": "middle", "dx": 2, "dy": 21, "font": "Liberation Sans", "fontSize": 8.5, "color": "#262626"},
   "encoding": {"text": {"field": "t", "type": "nominal"}, "x": {"datum": 0.0161, "type": "quantitative", "axis": null}, "y": {"datum": 0, "type": "quantitative", "axis": null}}},
  {"data": {"name": "b"}, "mark": {"type": "point", "opacity": 0},
   "encoding": {"x": {"field": "s", "type": "quantitative", "axis": {"orient": "top", "labels": false, "title": null, "values": [0.002, 0.004, 0.006, 0.008, 0.01, 0.012, 0.014, 0.016]}}, "y": {"field": "e", "type": "quantitative", "axis": {"orient": "right", "labels": false, "title": null, "values": [0, 0.1, 0.2, 0.3, 0.4, 0.5, 0.6, 0.7, 0.8]}}}}
 ]
},
{
 "width": 246, "height": 196,
 "title": {"text": ["(c) Georgia Tech at 50% Resolu-", "tion"], "orient": "bottom", "anchor": "start", "align": "left", "dx": -7, "offset": 21},
 "resolve": {"axis": {"x": "independent", "y": "independent"}},
 "layer": [
  {"data": {"name": "c"}, "transform": [{"filter": "datum.k == 'Real Data'"}], "mark": {"type": "point", "filled": true, "size": 25, "opacity": 1},
   "encoding": {
    "x": {"field": "s", "type": "quantitative", "scale": {"domain": [0.0005, 0.0495], "nice": false, "zero": false}, "axis": {"title": "Size (MB)", "values": [0.005, 0.01, 0.015, 0.02, 0.025, 0.03, 0.035, 0.04, 0.045], "labelExpr": "format(datum.value, '~g')"}},
    "y": {"field": "e", "type": "quantitative", "scale": {"domain": [0.06, 0.2], "nice": false, "zero": false}, "axis": {"title": "Accuracy Error", "values": [0.06, 0.08, 0.1, 0.12, 0.14, 0.16, 0.18, 0.2], "labelExpr": "format(datum.value, '~g')"}},
    "color": {"field": "k", "type": "nominal", "scale": {"domain": ["Real Data", "Model"], "range": ["#0000ff", "#ff0000"]}, "legend": {"title": null, "strokeColor": "black", "fillColor": "white"}},
    "shape": {"field": "k", "type": "nominal", "scale": {"domain": ["Real Data", "Model"], "range": ["circle", "M-4,-0.2H4V0.2H-4Z"]}, "legend": {"title": null, "strokeColor": "black", "fillColor": "white"}}
   }},
  {"data": {"name": "c"}, "transform": [{"filter": "datum.k == 'Model'"}], "mark": {"type": "line", "strokeWidth": 1.6},
   "encoding": {"x": {"field": "s", "type": "quantitative", "axis": null}, "y": {"field": "e", "type": "quantitative", "axis": null}, "color": {"field": "k", "type": "nominal", "scale": {"domain": ["Real Data", "Model"], "range": ["#0000ff", "#ff0000"]}, "legend": {"title": null, "strokeColor": "black", "fillColor": "white"}}}},
  {"data": {"name": "c"}, "mark": {"type": "point", "opacity": 0},
   "encoding": {"x": {"field": "s", "type": "quantitative", "axis": {"orient": "top", "labels": false, "title": null, "values": [0.005, 0.01, 0.015, 0.02, 0.025, 0.03, 0.035, 0.04, 0.045]}}, "y": {"field": "e", "type": "quantitative", "axis": {"orient": "right", "labels": false, "title": null, "values": [0.06, 0.08, 0.1, 0.12, 0.14, 0.16, 0.18, 0.2]}}}}
 ]
},
{
 "width": 249, "height": 196,
 "title": {"text": "(d) SCFace at Distance 1", "orient": "bottom", "anchor": "middle", "offset": 29, "dx": -7},
 "resolve": {"axis": {"x": "independent", "y": "independent"}},
 "layer": [
  {"data": {"name": "d"}, "transform": [{"filter": "datum.k == 'Real Data'"}], "mark": {"type": "point", "filled": true, "size": 25, "opacity": 1},
   "encoding": {
    "x": {"field": "s", "type": "quantitative", "scale": {"domain": [0.00004, 0.00304], "nice": false, "zero": false}, "axis": {"title": "Size (MB)", "values": [0.0005, 0.001, 0.0015, 0.002, 0.0025, 0.003], "labelExpr": "format(datum.value * 1000, '~g')"}},
    "y": {"field": "e", "type": "quantitative", "scale": {"domain": [0, 0.45], "nice": false, "zero": false}, "axis": {"title": "Accuracy Error", "values": [0, 0.05, 0.1, 0.15, 0.2, 0.25, 0.3, 0.35, 0.4, 0.45], "labelExpr": "format(datum.value, '~g')"}},
    "color": {"field": "k", "type": "nominal", "scale": {"domain": ["Real Data", "Model"], "range": ["#0000ff", "#ff0000"]}, "legend": {"title": null, "strokeColor": "black", "fillColor": "white"}},
    "shape": {"field": "k", "type": "nominal", "scale": {"domain": ["Real Data", "Model"], "range": ["circle", "M-4,-0.2H4V0.2H-4Z"]}, "legend": {"title": null, "strokeColor": "black", "fillColor": "white"}}
   }},
  {"data": {"name": "d"}, "transform": [{"filter": "datum.k == 'Model'"}], "mark": {"type": "line", "strokeWidth": 1.6},
   "encoding": {"x": {"field": "s", "type": "quantitative", "axis": null}, "y": {"field": "e", "type": "quantitative", "axis": null}, "color": {"field": "k", "type": "nominal", "scale": {"domain": ["Real Data", "Model"], "range": ["#0000ff", "#ff0000"]}, "legend": {"title": null, "strokeColor": "black", "fillColor": "white"}}}},
  {"data": {"values": [{"t": "x 10⁻³"}]}, "mark": {"type": "text", "align": "right", "baseline": "middle", "dx": 2, "dy": 21, "font": "Liberation Sans", "fontSize": 8.5, "color": "#262626"},
   "encoding": {"text": {"field": "t", "type": "nominal"}, "x": {"datum": 0.00304, "type": "quantitative", "axis": null}, "y": {"datum": 0, "type": "quantitative", "axis": null}}},
  {"data": {"name": "d"}, "mark": {"type": "point", "opacity": 0},
   "encoding": {"x": {"field": "s", "type": "quantitative", "axis": {"orient": "top", "labels": false, "title": null, "values": [0.0005, 0.001, 0.0015, 0.002, 0.0025, 0.003]}}, "y": {"field": "e", "type": "quantitative", "axis": {"orient": "right", "labels": false, "title": null, "values": [0, 0.05, 0.1, 0.15, 0.2, 0.25, 0.3, 0.35, 0.4, 0.45]}}}}
 ]
},
{
 "width": 249, "height": 196,
 "title": {"text": "(e) SCFace at Distance 2", "orient": "bottom", "anchor": "middle", "offset": 29, "dx": -5},
 "resolve": {"axis": {"x": "independent", "y": "independent"}},
 "layer": [
  {"data": {"name": "e"}, "transform": [{"filter": "datum.k == 'Real Data'"}], "mark": {"type": "point", "filled": true, "size": 25, "opacity": 1},
   "encoding": {
    "x": {"field": "s", "type": "quantitative", "scale": {"domain": [0.0001, 0.00544], "nice": false, "zero": false}, "axis": {"title": "Size (MB)", "values": [0.001, 0.002, 0.003, 0.004, 0.005], "labelExpr": "format(datum.value * 1000, '~g')"}},
    "y": {"field": "e", "type": "quantitative", "scale": {"domain": [0, 0.2], "nice": false, "zero": false}, "axis": {"title": "Accuracy Error", "values": [0, 0.02, 0.04, 0.06, 0.08, 0.1, 0.12, 0.14, 0.16, 0.18, 0.2], "labelExpr": "format(datum.value, '~g')"}},
    "color": {"field": "k", "type": "nominal", "scale": {"domain": ["Real Data", "Model"], "range": ["#0000ff", "#ff0000"]}, "legend": {"title": null, "strokeColor": "black", "fillColor": "white"}},
    "shape": {"field": "k", "type": "nominal", "scale": {"domain": ["Real Data", "Model"], "range": ["circle", "M-4,-0.2H4V0.2H-4Z"]}, "legend": {"title": null, "strokeColor": "black", "fillColor": "white"}}
   }},
  {"data": {"name": "e"}, "transform": [{"filter": "datum.k == 'Model'"}], "mark": {"type": "line", "strokeWidth": 1.6},
   "encoding": {"x": {"field": "s", "type": "quantitative", "axis": null}, "y": {"field": "e", "type": "quantitative", "axis": null}, "color": {"field": "k", "type": "nominal", "scale": {"domain": ["Real Data", "Model"], "range": ["#0000ff", "#ff0000"]}, "legend": {"title": null, "strokeColor": "black", "fillColor": "white"}}}},
  {"data": {"values": [{"t": "x 10⁻³"}]}, "mark": {"type": "text", "align": "right", "baseline": "middle", "dx": 2, "dy": 21, "font": "Liberation Sans", "fontSize": 8.5, "color": "#262626"},
   "encoding": {"text": {"field": "t", "type": "nominal"}, "x": {"datum": 0.00544, "type": "quantitative", "axis": null}, "y": {"datum": 0, "type": "quantitative", "axis": null}}},
  {"data": {"name": "e"}, "mark": {"type": "point", "opacity": 0},
   "encoding": {"x": {"field": "s", "type": "quantitative", "axis": {"orient": "top", "labels": false, "title": null, "values": [0.001, 0.002, 0.003, 0.004, 0.005]}}, "y": {"field": "e", "type": "quantitative", "axis": {"orient": "right", "labels": false, "title": null, "values": [0, 0.02, 0.04, 0.06, 0.08, 0.1, 0.12, 0.14, 0.16, 0.18, 0.2]}}}}
 ]
},
{
 "width": 246, "height": 196,
 "title": {"text": "(f) SCFace at Distance 3", "orient": "bottom", "anchor": "middle", "offset": 29, "dx": -9},
 "resolve": {"axis": {"x": "independent", "y": "independent"}},
 "layer": [
  {"data": {"name": "f"}, "transform": [{"filter": "datum.k == 'Real Data'"}], "mark": {"type": "point", "filled": true, "size": 25, "opacity": 1},
   "encoding": {
    "x": {"field": "s", "type": "quantitative", "scale": {"domain": [0.00017, 0.0123], "nice": false, "zero": false}, "axis": {"title": "Size (MB)", "values": [0.002, 0.004, 0.006, 0.008, 0.01, 0.012], "labelExpr": "format(datum.value * 1000, '~g')"}},
    "y": {"field": "e", "type": "quantitative", "scale": {"domain": [0, 0.07], "nice": false, "zero": false}, "axis": {"title": "Accuracy Error", "values": [0, 0.01, 0.02, 0.03, 0.04, 0.05, 0.06, 0.07], "labelExpr": "format(datum.value, '~g')"}},
    "color": {"field": "k", "type": "nominal", "scale": {"domain": ["Real Data", "Model"], "range": ["#0000ff", "#ff0000"]}, "legend": {"title": null, "strokeColor": "black", "fillColor": "white"}},
    "shape": {"field": "k", "type": "nominal", "scale": {"domain": ["Real Data", "Model"], "range": ["circle", "M-4,-0.2H4V0.2H-4Z"]}, "legend": {"title": null, "strokeColor": "black", "fillColor": "white"}}
   }},
  {"data": {"name": "f"}, "transform": [{"filter": "datum.k == 'Model'"}], "mark": {"type": "line", "strokeWidth": 1.6},
   "encoding": {"x": {"field": "s", "type": "quantitative", "axis": null}, "y": {"field": "e", "type": "quantitative", "axis": null}, "color": {"field": "k", "type": "nominal", "scale": {"domain": ["Real Data", "Model"], "range": ["#0000ff", "#ff0000"]}, "legend": {"title": null, "strokeColor": "black", "fillColor": "white"}}}},
  {"data": {"values": [{"t": "x 10⁻³"}]}, "mark": {"type": "text", "align": "right", "baseline": "middle", "dx": 2, "dy": 21, "font": "Liberation Sans", "fontSize": 8.5, "color": "#262626"},
   "encoding": {"text": {"field": "t", "type": "nominal"}, "x": {"datum": 0.0123, "type": "quantitative", "axis": null}, "y": {"datum": 0, "type": "quantitative", "axis": null}}},
  {"data": {"name": "f"}, "mark": {"type": "point", "opacity": 0},
   "encoding": {"x": {"field": "s", "type": "quantitative", "axis": {"orient": "top", "labels": false, "title": null, "values": [0.002, 0.004, 0.006, 0.008, 0.01, 0.012]}}, "y": {"field": "e", "type": "quantitative", "axis": {"orient": "right", "labels": false, "title": null, "values": [0, 0.01, 0.02, 0.03, 0.04, 0.05, 0.06, 0.07]}}}}
 ]
}
]
}
